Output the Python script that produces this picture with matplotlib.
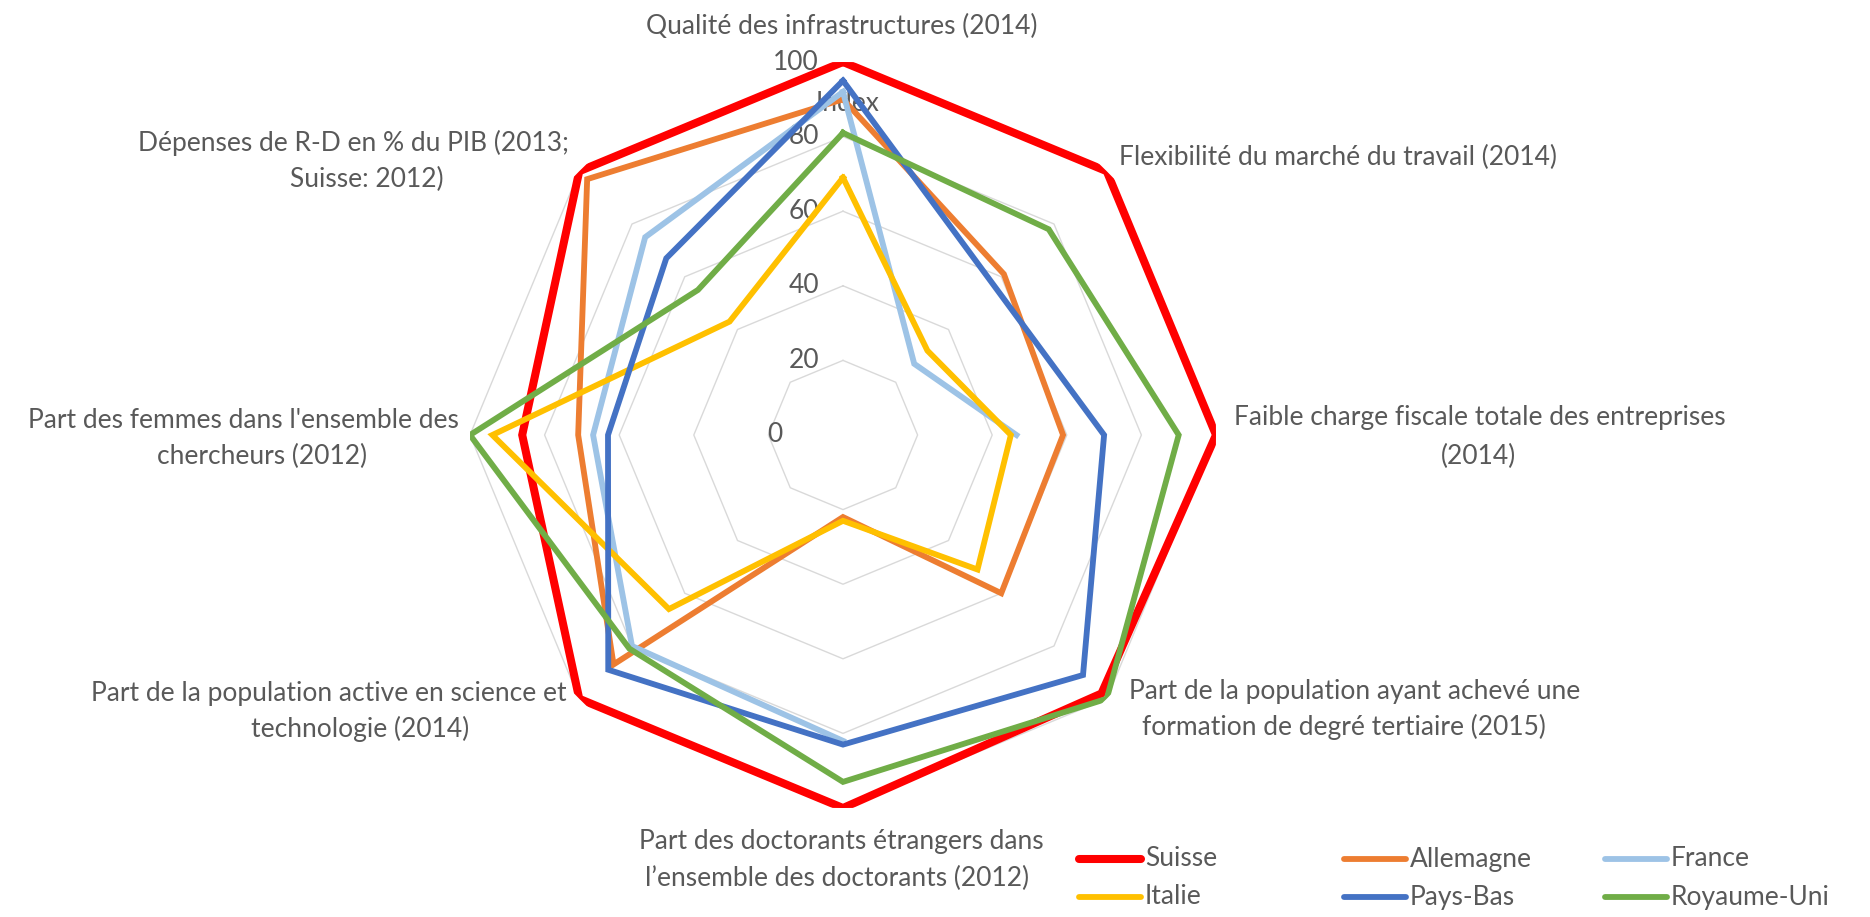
#!/usr/bin/env python3
import numpy as np
import matplotlib
matplotlib.use("Agg")
import matplotlib.pyplot as plt
from matplotlib.lines import Line2D
from matplotlib.transforms import offset_copy

# axes, clockwise from the top
categories = [
    "Qualité des infrastructures (2014)",
    "Flexibilité du marché du travail (2014)",
    "Faible charge fiscale totale des entreprises (2014)",
    "Part de la population ayant achevé une formation de degré tertiaire (2015)",
    "Part des doctorants étrangers dans l’ensemble des doctorants (2012)",
    "Part de la population active en science et technologie (2014)",
    "Part des femmes dans l'ensemble des chercheurs (2012)",
    "Dépenses de R-D en % du PIB (2013; Suisse: 2012)",
]

suisse      = [100, 100, 100, 98, 100, 100, 86, 100]
allemagne   = [90, 61, 59, 60, 22, 87, 71, 97]
france      = [92, 27, 46.5, np.nan, 82, 80, 67, 75]
italie      = [69, 32, 45, 51, 23, 66, 94, 43]
pays_bas    = [95, 57, 70, 91, 83, 89, 63, 67]
royaume_uni = [81, 78, 90, 100, 93, 81, 100, 55]

series_names = ["Suisse", "Allemagne", "France", "Italie", "Pays-Bas", "Royaume-Uni"]
series_vals = [suisse, allemagne, france, italie, pays_bas, royaume_uni]
colors = ["#FF0000", "#ED7D31", "#9DC3E6", "#FFC000", "#4472C4", "#70AD47"]
widths = [5.8, 4.2, 4.2, 4.2, 4.2, 4.2]

r_ticks = [0, 20, 40, 60, 80, 100]

W, H = 1870, 917
GRAY = "#595959"
FONT = "Lato"
FS = 19


def px(x, y):
    return x / W, 1 - y / H


def main():
    plt.rcParams["font.family"] = [FONT, "DejaVu Sans"]
    fig = plt.figure(figsize=(W / 100, H / 100), dpi=100)
    cx, cy, R = 843, 435, 373
    ax = fig.add_axes([(cx - R) / W, (H - cy - R) / H, 2 * R / W, 2 * R / H],
                      projection="polar")
    ax.set_theta_zero_location("N")
    ax.set_theta_direction(-1)
    ax.set_ylim(0, 100)
    ax.set_xticks([])
    ax.set_yticks([])
    ax.grid(False)
    ax.spines["polar"].set_visible(False)
    ax.patch.set_alpha(0)

    n = len(categories)
    theta = np.linspace(0, 2 * np.pi, n, endpoint=False)
    theta_c = np.append(theta, theta[0])

    # octagon grid
    for r in r_ticks[1:]:
        ax.plot(theta_c, [r] * (n + 1), color="#D9D9D9", lw=1.0, zorder=1)

    for name, vals, c, lw in zip(series_names, series_vals, colors, widths):
        v = np.append(vals, vals[0])
        ax.plot(theta_c, v, color=c, lw=lw, solid_joinstyle="miter", zorder=3)

    # radial tick labels left of the top spoke
    for r in r_ticks:
        dx = -61 if r == 0 else -24
        tr = offset_copy(ax.transData, fig=fig, x=dx, y=0, units="dots")
        ax.text(0, r, str(r), transform=tr, ha="right", va="center",
                fontsize=FS, color=GRAY, zorder=2)
    tr = offset_copy(ax.transData, fig=fig, x=5, y=0, units="dots")
    ax.text(0, 89, "Index", transform=tr, ha="center", va="center",
            fontsize=FS, color=GRAY, zorder=2)

    # category labels (pixel positions of each line)
    lines = [
        ("Qualité des infrastructures (2014)", 842, 26, "center"),
        ("Flexibilité du marché du travail (2014)", 1119, 157, "left"),
        ("Faible charge fiscale totale des entreprises", 1234, 417, "left"),
        ("(2014)", 1479, 456, "center"),
        ("Part de la population ayant achevé une", 1355, 692, "center"),
        ("formation de degré tertiaire (2015)", 1344, 727, "center"),
        ("Part des doctorants étrangers dans", 841, 842, "center"),
        ("l’ensemble des doctorants (2012)", 837, 878, "center"),
        ("Part de la population active en science et", 329, 694, "center"),
        ("technologie (2014)", 360, 729, "center"),
        ("Part des femmes dans l'ensemble des", 243, 420, "center"),
        ("chercheurs (2012)", 262, 456, "center"),
        ("Dépenses de R-D en % du PIB (2013;", 353, 143, "center"),
        ("Suisse: 2012)", 367, 179, "center"),
    ]
    for txt, x, y, ha in lines:
        fig.text(*px(x, y), txt, ha=ha, va="center", fontsize=FS, color=GRAY)

    # legend, 2 rows x 3 columns
    col_x = [1079, 1344, 1605]
    row_y = [859, 897]
    for i, (name, c, lw) in enumerate(zip(series_names, colors, widths)):
        x0 = col_x[i % 3]
        y0 = row_y[i // 3]
        xa, ya = px(x0, y0)
        xb, _ = px(x0 + 62, y0)
        fig.add_artist(Line2D([xa, xb], [ya, ya], transform=fig.transFigure,
                              color=c, lw=lw, solid_capstyle="round"))
        fig.text(*px(x0 + 66, y0), name, ha="left", va="center",
                 fontsize=FS, color=GRAY)

    fig.savefig("out.png", dpi=100, facecolor="white")
    plt.close(fig)


if __name__ == "__main__":
    main()
